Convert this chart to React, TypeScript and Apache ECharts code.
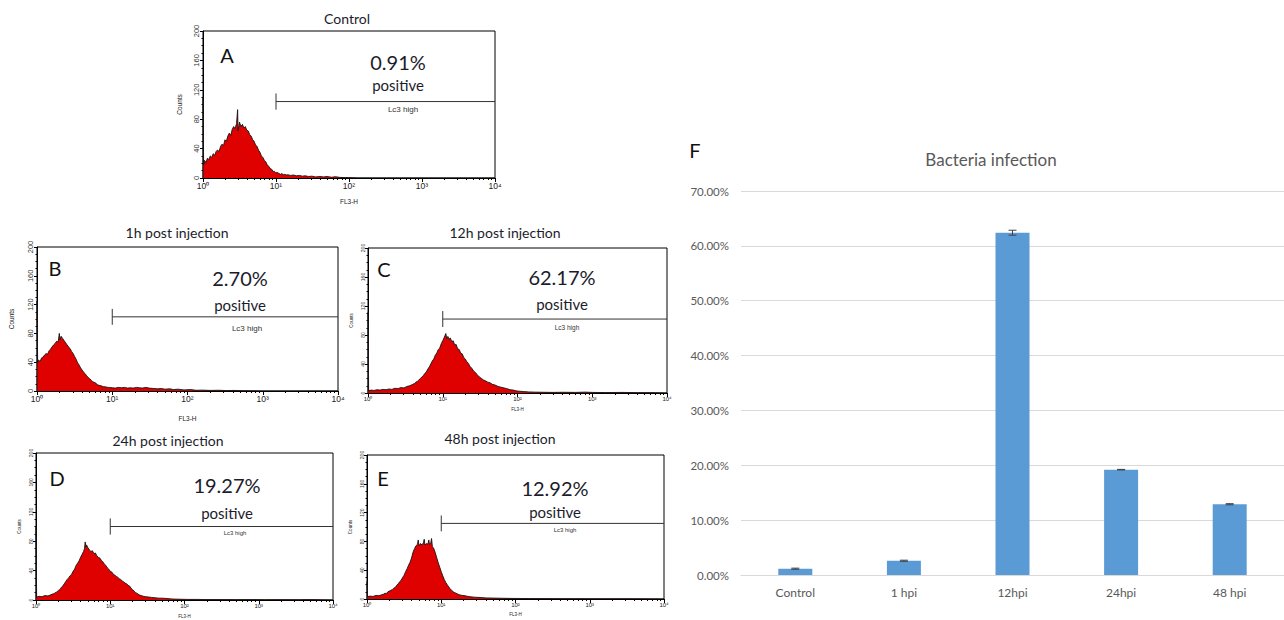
import React, { useEffect, useRef } from "react";
import * as echarts from "echarts";

// ---------- Flow cytometry histograms: [FL3-H, Counts] ----------
const histControl: number[][] = [
  [1, 0], [1, 110], [1.02, 18], [1.05, 24], [1.1, 21], [1.15, 27], [1.2, 25], [1.26, 30], [1.32, 28],
  [1.38, 33], [1.45, 31], [1.51, 36], [1.58, 38], [1.66, 36], [1.74, 43], [1.82, 46], [1.91, 44], [2.0, 52],
  [2.09, 50], [2.19, 57], [2.29, 61], [2.4, 58], [2.51, 66], [2.63, 70], [2.75, 67], [2.88, 74], [2.98, 93],
  [3.02, 64], [3.16, 76], [3.31, 70], [3.47, 73], [3.63, 68], [3.8, 70], [3.98, 65], [4.17, 64], [4.37, 59],
  [4.57, 57], [4.79, 52], [5.01, 50], [5.25, 45], [5.5, 43], [5.75, 38], [6.03, 35], [6.31, 30], [6.61, 28],
  [6.92, 24], [7.24, 22], [7.59, 18], [7.94, 16], [8.32, 13], [8.71, 12], [9.12, 9], [9.55, 9], [10, 7],
  [10.5, 7.5], [11, 6], [11.5, 5], [12, 6], [12.6, 4.5], [13.2, 5], [13.8, 4], [14.5, 4.5], [15.8, 3.5],
  [17.4, 4], [19.1, 3], [21, 3.5], [23, 2.5], [25, 3], [28, 2], [31, 2.5], [35, 1.5], [40, 2], [45, 1.5],
  [50, 2], [58, 1], [65, 1.8], [75, 0.8], [90, 0.6], [110, 0.3], [130, 0], [10000, 0],
];
const hist1h: number[][] = [
  [1, 0], [1, 125], [1.02, 40], [1.05, 43], [1.1, 41], [1.15, 46], [1.2, 47], [1.26, 50], [1.32, 52],
  [1.38, 51], [1.45, 56], [1.51, 58], [1.58, 61], [1.66, 64], [1.74, 66], [1.82, 69], [1.91, 68], [1.98, 80],
  [2.02, 71], [2.09, 76], [2.19, 73], [2.29, 70], [2.4, 67], [2.51, 64], [2.63, 61], [2.75, 59], [2.88, 55],
  [3.02, 52], [3.16, 48], [3.31, 44], [3.47, 39], [3.63, 36], [3.8, 32], [3.98, 29], [4.17, 26], [4.37, 24],
  [4.57, 21], [4.79, 19], [5.01, 17], [5.25, 15], [5.5, 13], [5.75, 12], [6.03, 11], [6.31, 9], [6.61, 8],
  [6.92, 7.5], [7.24, 7], [7.59, 6], [7.94, 6], [8.32, 5.5], [8.71, 5], [9.12, 5], [10, 4.5], [11, 4],
  [12, 5], [13.2, 4.5], [14.5, 5], [16, 4], [17.4, 4.5], [19, 4], [21, 5], [23, 4.5], [25, 4], [28, 5],
  [31, 4], [35, 3.5], [40, 3], [45, 3.5], [50, 2.5], [58, 3], [65, 2], [75, 2.5], [90, 1.5], [110, 2],
  [130, 1], [160, 1.2], [200, 0.8], [260, 1], [330, 0.6], [420, 0.8], [550, 0.4], [700, 0.3], [1000, 0],
  [10000, 0],
];
const hist12h: number[][] = [
  [1, 0], [1, 111], [1.02, 3], [1.1, 4], [1.2, 3.5], [1.32, 4.5], [1.45, 4], [1.58, 5], [1.74, 4.5],
  [1.91, 5.5], [2.09, 5], [2.29, 6.5], [2.51, 6], [2.75, 7.5], [3.02, 7], [3.31, 9], [3.63, 10], [3.98, 12],
  [4.17, 13], [4.37, 15], [4.57, 16], [4.79, 18], [5.01, 20], [5.25, 22], [5.5, 24], [5.75, 27], [6.03, 29],
  [6.31, 33], [6.61, 36], [6.92, 40], [7.24, 44], [7.59, 47], [7.94, 52], [8.32, 55], [8.71, 60], [9.12, 62],
  [9.55, 68], [10, 72], [10.5, 77], [11, 82], [11.3, 75], [11.7, 78], [12.2, 74], [12.6, 76], [13.2, 71],
  [13.8, 72], [14.5, 66], [15.1, 67], [15.8, 61], [16.6, 60], [17.4, 55], [18.2, 54], [19.1, 49], [20, 47],
  [21, 43], [22, 41], [23, 37], [24.5, 34], [26, 30], [27.5, 28], [29, 25], [31, 22], [33, 20], [35, 18],
  [37, 17], [40, 15], [43, 14], [46, 12], [50, 11], [55, 9], [60, 8], [66, 7], [72, 6], [80, 4.5], [88, 4],
  [95, 3], [105, 2.5], [120, 2], [140, 1.5], [170, 1.2], [220, 1], [300, 0.8], [400, 1], [600, 0.8],
  [800, 1.2], [1000, 0.8], [1500, 0.6], [2500, 0.8], [4000, 0.5], [7000, 0.4], [10000, 0],
];
const hist24h: number[][] = [
  [1, 0], [1, 100], [1.02, 4], [1.1, 5], [1.2, 4.5], [1.32, 6], [1.45, 5.5], [1.58, 7], [1.66, 8],
  [1.74, 8.5], [1.82, 10], [1.91, 11], [2.0, 13], [2.09, 14], [2.19, 17], [2.29, 19], [2.4, 22], [2.51, 25],
  [2.63, 28], [2.75, 30], [2.88, 33], [3.02, 35], [3.16, 39], [3.31, 42], [3.47, 47], [3.63, 50], [3.8, 53],
  [3.98, 58], [4.17, 62], [4.37, 66], [4.5, 70], [4.6, 79], [4.7, 72], [4.79, 75], [5.01, 71], [5.25, 68],
  [5.5, 66], [5.75, 67], [6.03, 63], [6.31, 64], [6.61, 60], [6.92, 58], [7.24, 57], [7.59, 54], [7.94, 52],
  [8.32, 49], [8.71, 47], [9.12, 44], [9.55, 42], [10, 39], [10.5, 38], [11, 35], [11.5, 34], [12, 32],
  [12.6, 31], [13.2, 29], [13.8, 28], [14.5, 26], [15.1, 25], [15.8, 23], [16.6, 22], [17.4, 20], [18.2, 19],
  [19.1, 16], [20, 14], [21, 12], [22, 10], [23, 9], [24.5, 7], [26, 6], [28, 5], [30, 4.5], [33, 4],
  [36, 3.5], [40, 3], [45, 2.5], [50, 2.5], [58, 2], [66, 1.5], [75, 1.2], [90, 1], [110, 0.8], [150, 0.8],
  [200, 0.6], [300, 0.6], [500, 0.5], [800, 0.6], [1200, 0.4], [2000, 0.5], [3500, 0.4], [5000, 0.6],
  [7000, 0.3], [10000, 0],
];
const hist48h: number[][] = [
  [1, 0], [1, 24], [1.02, 3], [1.1, 4], [1.2, 3.5], [1.32, 5], [1.45, 4.5], [1.58, 6], [1.66, 6.5], [1.74, 8],
  [1.82, 7.5], [1.91, 10], [2.0, 11], [2.09, 12], [2.19, 13], [2.29, 15], [2.4, 16], [2.51, 19], [2.63, 21],
  [2.75, 24], [2.88, 26], [3.02, 30], [3.16, 33], [3.31, 38], [3.47, 42], [3.63, 47], [3.8, 51], [3.98, 57],
  [4.17, 65], [4.37, 70], [4.57, 74], [4.79, 76], [4.9, 82], [5.01, 74], [5.25, 77], [5.5, 75], [5.75, 78],
  [5.9, 83], [6.03, 75], [6.31, 77], [6.61, 76], [6.8, 82], [6.92, 76], [7.24, 78], [7.4, 84], [7.59, 73],
  [7.94, 70], [8.32, 64], [8.71, 57], [9.12, 50], [9.55, 44], [10, 38], [10.5, 32], [11, 27], [11.5, 23],
  [12, 20], [12.6, 17], [13.2, 14], [13.8, 12], [14.5, 10], [15.1, 9], [15.8, 8], [16.6, 7], [17.4, 6],
  [19, 5], [21, 4.5], [23, 3.5], [25, 3], [28, 2.5], [31, 2.3], [35, 2], [40, 1.5], [50, 1.3], [65, 1],
  [90, 0.8], [150, 0.6], [300, 0.5], [600, 0.4], [1500, 0.3], [4000, 0.3], [10000, 0],
];

const panelTitles = ["Control", "1h post injection", "12h post injection", "24h post injection", "48h post injection"];
const panelLetters = ["A", "B", "C", "D", "E"];
const panelPercents = ["0.91%", "2.70%", "62.17%", "19.27%", "12.92%"];
const gateLevel = [104, 103, 102, 100, 105];
const gateStart = 10;
const gateEnd = 10000;
const countRange = [0, 200];

// ---------- Bar chart F ----------
const barCategories = ["Control", "1 hpi", "12hpi", "24hpi", "48 hpi"];
const barValues = [1.15, 2.6, 62.4, 19.2, 12.9];
const barErrors = [0.1, 0.1, 0.45, 0.05, 0.1];

const SUP = ["\u2070", "\u00B9", "\u00B2", "\u00B3", "\u2074"];

type Layout = {
  left: number; top: number; width: number; height: number;
  tick: number; lab: number; name: number; xGap: number; yGap: number;
  title: [number, number]; letter: [number, number]; pct: [number, number]; pos: [number, number];
  lc3: [number, number]; lc3Size: number;
};

const layouts: Layout[] = [
  { left: 203, top: 31, width: 292, height: 147, tick: 7.5, lab: 8.5, name: 6.5, xGap: 20, yGap: 20,
    title: [347, 18], letter: [227, 55], pct: [398, 62], pos: [398, 85], lc3: [403, 109], lc3Size: 8 },
  { left: 37, top: 247, width: 301, height: 144, tick: 7.5, lab: 8.5, name: 6.5, xGap: 24, yGap: 22,
    title: [177, 232], letter: [55, 268], pct: [240, 278], pos: [240, 305], lc3: [247, 328], lc3Size: 8 },
  { left: 368, top: 248, width: 299, height: 145, tick: 5, lab: 6, name: 4.5, xGap: 14, yGap: 14,
    title: [505, 232], letter: [384, 269], pct: [562, 277], pos: [562, 304], lc3: [567, 327], lc3Size: 6.5 },
  { left: 36, top: 453, width: 297, height: 148, tick: 5, lab: 6, name: 4.5, xGap: 14, yGap: 14,
    title: [168, 440], letter: [57, 478], pct: [227, 485], pos: [227, 513], lc3: [235, 533], lc3Size: 6 },
  { left: 367, top: 455, width: 297, height: 144, tick: 5, lab: 6, name: 4.5, xGap: 13, yGap: 14,
    title: [500, 438], letter: [383, 478], pct: [555, 488], pos: [555, 512], lc3: [565, 530], lc3Size: 6 },
];

const histData = [histControl, hist1h, hist12h, hist24h, hist48h];

const ARIAL = "'Liberation Sans', Arial, sans-serif";
const CAL = "Lato, 'Open Sans', sans-serif";

function buildOption() {
  const grids: any[] = [];
  const xAxes: any[] = [];
  const yAxes: any[] = [];
  const series: any[] = [];
  const graphics: any[] = [];

  layouts.forEach((L, i) => {
    grids.push({
      left: L.left, top: L.top, width: L.width, height: L.height,
      show: true, borderColor: "#000", borderWidth: 1, backgroundColor: "#fff",
    });
    xAxes.push({
      type: "log", logBase: 10, min: 1, max: 10000, gridIndex: i,
      name: "FL3-H", nameLocation: "middle", nameGap: L.xGap,
      nameTextStyle: { fontFamily: ARIAL, fontSize: L.name, color: "#222" },
      axisLine: { lineStyle: { color: "#000", width: 1 } },
      axisTick: { length: 4, lineStyle: { color: "#000" } },
      minorTick: { show: true, splitNumber: 9, length: 2, lineStyle: { color: "#000" } },
      splitLine: { show: false },
      axisLabel: {
        fontFamily: ARIAL, fontSize: L.lab, color: "#222", margin: 3,
        formatter: (v: number) => "10" + SUP[Math.round(Math.log10(v))],
      },
    });
    yAxes.push({
      type: "value", min: countRange[0], max: countRange[1], interval: 40, gridIndex: i,
      name: "Counts", nameLocation: "middle", nameGap: L.yGap, nameRotate: 90,
      nameTextStyle: { fontFamily: ARIAL, fontSize: L.name, color: "#222" },
      axisLine: { show: true, lineStyle: { color: "#000", width: 1 } },
      axisTick: { show: true, length: 3, lineStyle: { color: "#000" } },
      minorTick: { show: true, splitNumber: 4, length: 1.5, lineStyle: { color: "#000" } },
      splitLine: { show: false },
      axisLabel: { fontFamily: ARIAL, fontSize: L.tick, color: "#333", rotate: 90, margin: 3 },
    });
    series.push({
      type: "line", xAxisIndex: i, yAxisIndex: i, data: histData[i], symbol: "none",
      lineStyle: { color: "#151515", width: 0.9 },
      areaStyle: { color: "#df0000", opacity: 1 },
      silent: true, z: 2,
    });
    series.push({
      type: "line", xAxisIndex: i, yAxisIndex: i, symbol: "none",
      data: [[gateStart, gateLevel[i]], [gateEnd, gateLevel[i]]],
      lineStyle: { color: "#333", width: 1 }, silent: true, z: 3,
    });
    series.push({
      type: "line", xAxisIndex: i, yAxisIndex: i, symbol: "none",
      data: [[gateStart, gateLevel[i] - 11], [gateStart, gateLevel[i] + 11]],
      lineStyle: { color: "#333", width: 1 }, silent: true, z: 3,
    });

    const txt = (x: number, y: number, text: string, size: number, font: string, color = "#1a1a1a") => ({
      type: "text", x, y,
      style: { text, fontSize: size, fontFamily: font, fill: color, align: "center", verticalAlign: "middle" },
      z: 10,
    });
    graphics.push(txt(L.title[0], L.title[1], panelTitles[i], 14, CAL, "#1c1c2c"));
    graphics.push(txt(L.letter[0], L.letter[1], panelLetters[i], 20, CAL, "#111"));
    graphics.push(txt(L.pct[0], L.pct[1], panelPercents[i], 20, CAL, "#1c1c2c"));
    graphics.push(txt(L.pos[0], L.pos[1], "positive", 15, CAL, "#1c1c2c"));
    graphics.push(txt(L.lc3[0], L.lc3[1], "Lc3 high", L.lc3Size, ARIAL, "#333"));
  });

  // Bar chart F
  const bi = 5;
  grids.push({ left: 741, top: 191, width: 543, height: 384 });
  xAxes.push({
    type: "category", data: barCategories, gridIndex: bi,
    axisLine: { lineStyle: { color: "#d9d9d9", width: 1 } },
    axisTick: { show: false },
    axisLabel: { fontFamily: CAL, fontSize: 12, color: "#595959", margin: 11 },
  });
  yAxes.push({
    type: "value", min: 0, max: 70, interval: 10, gridIndex: bi,
    axisLine: { show: false }, axisTick: { show: false },
    splitLine: { lineStyle: { color: "#d9d9d9", width: 1 } },
    axisLabel: {
      fontFamily: CAL, fontSize: 11.5, color: "#595959", margin: 12,
      formatter: (v: number) => v.toFixed(2) + "%",
    },
  });
  series.push({
    type: "bar", xAxisIndex: bi, yAxisIndex: bi, data: barValues, barWidth: 34,
    itemStyle: { color: "#5b9bd5" }, silent: true,
  });
  series.push({
    type: "custom", xAxisIndex: bi, yAxisIndex: bi, silent: true, z: 5,
    data: barValues.map((v, k) => [k, v - barErrors[k], v + barErrors[k]]),
    encode: { x: 0, y: [1, 2] },
    renderItem: (params: any, api: any) => {
      const k = api.value(0);
      const lo = api.coord([k, api.value(1)]);
      const hi = api.coord([k, api.value(2)]);
      const st = { stroke: "#404040", lineWidth: 1 };
      const cw = 4;
      return {
        type: "group",
        children: [
          { type: "line", shape: { x1: lo[0], y1: lo[1], x2: hi[0], y2: hi[1] }, style: st },
          { type: "line", shape: { x1: lo[0] - cw, y1: lo[1], x2: lo[0] + cw, y2: lo[1] }, style: st },
          { type: "line", shape: { x1: hi[0] - cw, y1: hi[1], x2: hi[0] + cw, y2: hi[1] }, style: st },
        ],
      };
    },
  });
  graphics.push({
    type: "text", x: 695, y: 150,
    style: { text: "F", fontSize: 20, fontFamily: CAL, fill: "#111", align: "center", verticalAlign: "middle" },
  });
  graphics.push({
    type: "text", x: 991, y: 159,
    style: { text: "Bacteria infection", fontSize: 17, fontFamily: CAL, fill: "#595959", align: "center", verticalAlign: "middle" },
  });

  return {
    animation: false,
    backgroundColor: "#fff",
    grid: grids,
    xAxis: xAxes,
    yAxis: yAxes,
    series,
    graphic: graphics,
  };
}

export default function App() {
  const ref = useRef<HTMLDivElement>(null);
  useEffect(() => {
    if (!ref.current) return;
    const chart = echarts.init(ref.current, undefined, { renderer: "svg" });
    chart.setOption(buildOption() as any);
    return () => chart.dispose();
  }, []);
  return (
    <div
      ref={ref}
      style={{ position: "absolute", left: 0, top: 0, width: 1284, height: 620, background: "#fff" }}
    />
  );
}
